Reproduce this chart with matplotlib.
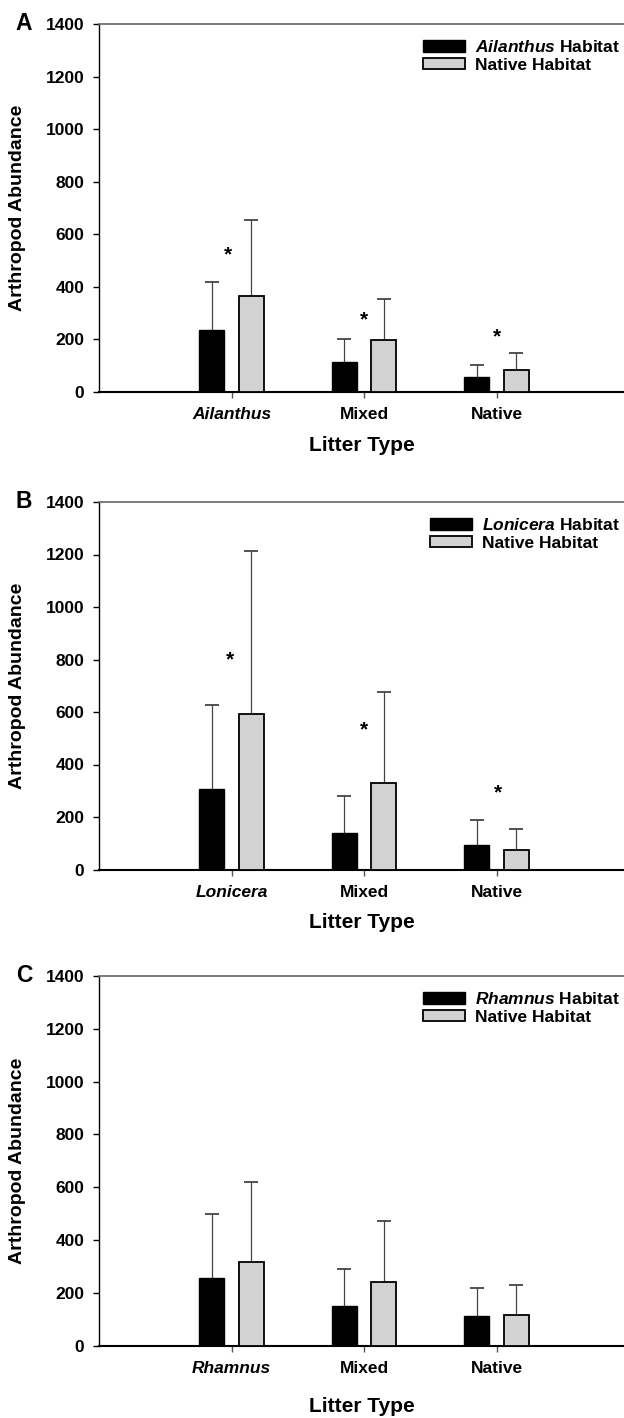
import numpy as np
import matplotlib.pyplot as plt
from matplotlib import rcParams

config = {
    "font.family": ['Liberation Sans', 'DejaVu Sans'],
    "font.weight": 'bold',
    "font.size": 12,
    "mathtext.fontset": 'custom',
    "mathtext.it": 'Liberation Sans:italic:bold',
    "mathtext.rm": 'Liberation Sans:bold',
    "mathtext.bf": 'Liberation Sans:bold',
}
rcParams.update(config)

# data (mean, upper error bar top)
cat_A = ['Ailanthus', 'Mixed', 'Native']
inv_A = [235, 113, 58]
inv_A_top = [418, 202, 101]
nat_A = [367, 199, 84]
nat_A_top = [654, 355, 148]
star_A = [520, 273, 209]

cat_B = ['Lonicera', 'Mixed', 'Native']
inv_B = [308, 138, 94]
inv_B_top = [628, 280, 190]
nat_B = [593, 330, 76]
nat_B_top = [1213, 676, 154]
star_B = [797, 533, 292]

cat_C = ['Rhamnus', 'Mixed', 'Native']
inv_C = [255, 149, 113]
inv_C_top = [497, 289, 219]
nat_C = [315, 242, 117]
nat_C_top = [618, 470, 228]
star_C = None

star_x_A = [0.97, 2.0, 3.0]
star_x_B = [0.985, 2.0, 3.01]

W, H = 624, 1418
fig = plt.figure(figsize=(W / 100, H / 100), dpi=100)


def upper_err(ax, xs, mean, top):
    # error bar only above the bar, with a single cap
    err = np.array(top) - np.array(mean)
    _, caps, _ = ax.errorbar(xs, mean, yerr=[np.zeros_like(err), err], fmt='none',
                             ecolor='#444444', elinewidth=0.9, capthick=1.3, capsize=4.8,
                             zorder=2)
    caps[0].set_visible(False)


def panel(top_px, bot_px, letter, cats, inv, inv_top, nat, nat_top, stars, star_x, xlab_y):
    left_px = 99
    ax = fig.add_axes([left_px / W, 1 - bot_px / H, (W - left_px) / W, (bot_px - top_px) / H])
    x = np.arange(1, len(cats) + 1)

    ax.bar(x - 0.15, inv, 0.19, color='black', edgecolor='black', linewidth=1.0, zorder=3,
           label=f'$\\it{{{cats[0]}}}$ Habitat')
    ax.bar(x + 0.15, nat, 0.19, color='#d2d2d2', edgecolor='black', linewidth=1.3, zorder=3,
           label='Native Habitat')
    upper_err(ax, x - 0.15, inv, inv_top)
    upper_err(ax, x + 0.15, nat, nat_top)

    if stars is not None:
        for sx, sy in zip(star_x, stars):
            ax.text(sx, sy, '*', ha='center', va='center', fontsize=15, fontweight='bold')

    ax.set_xlim(0, (W - left_px) / 132.5)
    ax.set_ylim(0, 1400)
    ax.set_yticks(np.arange(0, 1401, 200))
    ax.set_xticks(x)
    ax.set_xticklabels(cats)
    ax.get_xticklabels()[0].set_style('italic')

    ax.spines['right'].set_visible(False)
    ax.spines['top'].set_color('#666666')
    ax.spines['top'].set_linewidth(1.2)
    ax.spines['bottom'].set_linewidth(1.5)
    ax.spines['left'].set_linewidth(1.0)
    ax.tick_params(axis='y', direction='out', length=4.5, width=1.0, pad=6, labelsize=12.5)
    ax.tick_params(axis='x', direction='out', length=4, width=1.0, color='#555555', pad=7, labelsize=12.5)

    ax.set_ylabel('Arthropod Abundance', fontsize=14, fontweight='bold')
    ax.yaxis.set_label_coords(-0.139, 0.5)
    ax.set_xlabel('Litter Type', fontsize=15, fontweight='bold')
    ax.xaxis.set_label_coords(0.5, xlab_y)

    ax.text(-0.143, 1.0, letter, transform=ax.transAxes, fontsize=16.5, fontweight='bold',
            ha='center', va='center')

    ax.legend(loc='upper right', bbox_to_anchor=(1.006, 0.978), frameon=False,
              fontsize=12.5, handlelength=2.4, handleheight=0.65, handletextpad=0.6,
              labelspacing=0.15, borderaxespad=0.0)
    return ax


panel(24, 392, 'A', cat_A, inv_A, inv_A_top, nat_A, nat_A_top, star_A, star_x_A, -0.12)
panel(502, 869.5, 'B', cat_B, inv_B, inv_B_top, nat_B, nat_B_top, star_B, star_x_B, -0.118)
panel(976, 1345.5, 'C', cat_C, inv_C, inv_C_top, nat_C, nat_C_top, star_C, None, -0.14)

fig.savefig('out.png', dpi=100)
